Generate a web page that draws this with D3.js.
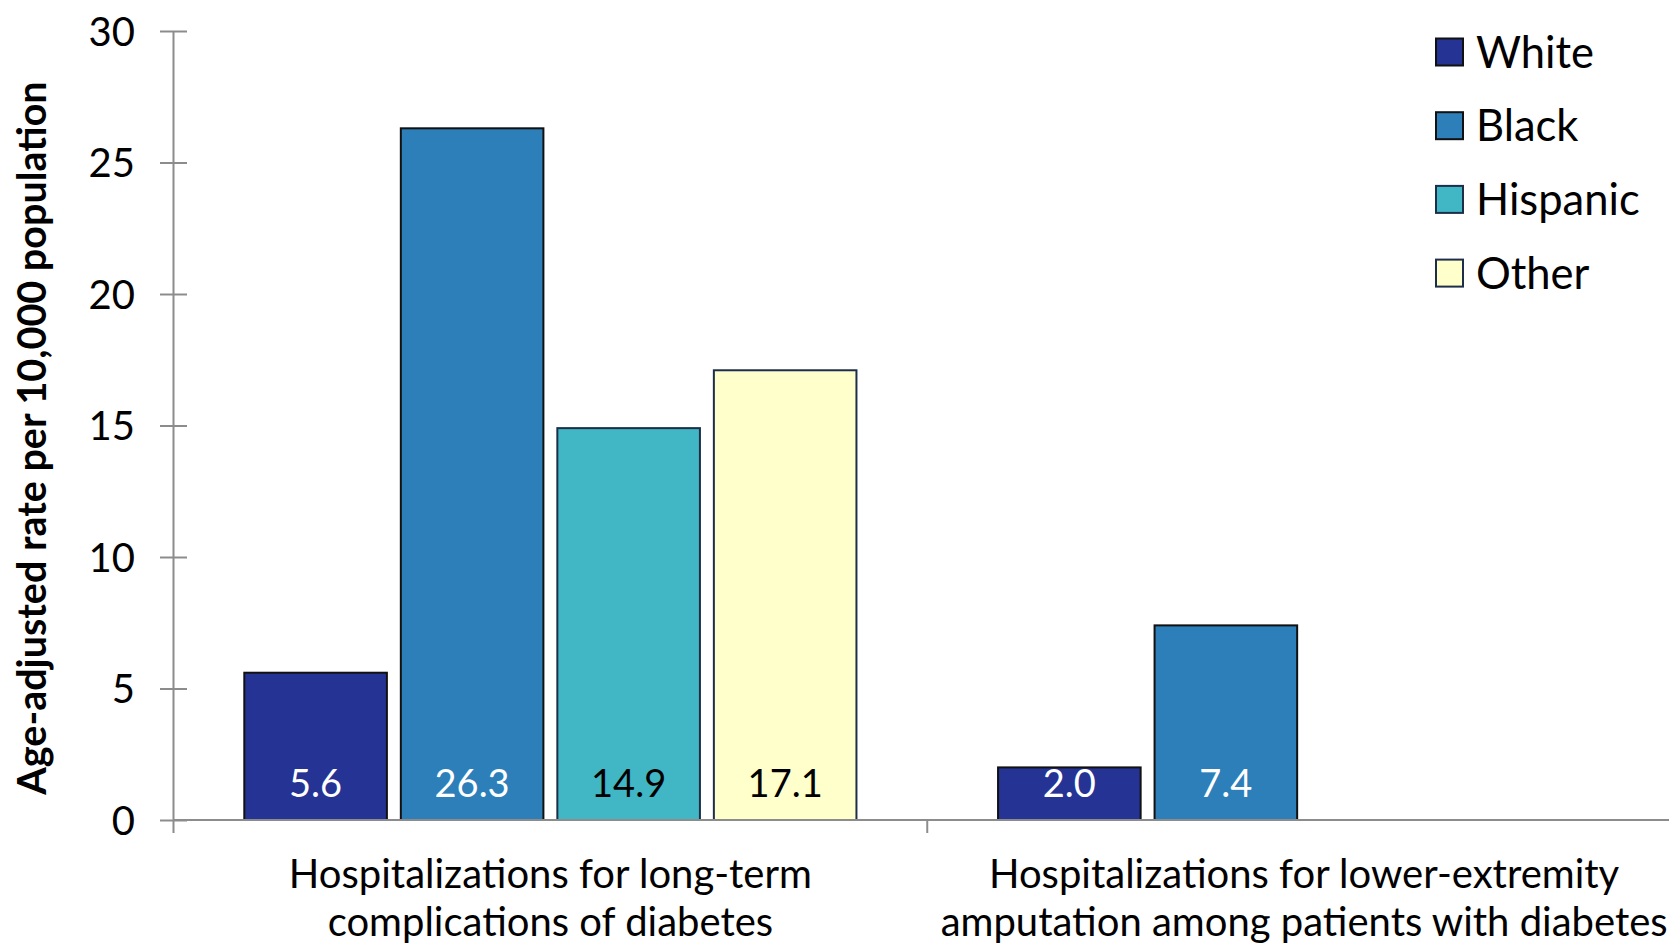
<!DOCTYPE html>
<html>
<head>
<meta charset="utf-8">
<script src="https://cdn.jsdelivr.net/npm/d3@7"></script>
<style>
  html, body { margin: 0; padding: 0; background: #fff; }
  svg { display: block; font-family: Lato, "Open Sans", sans-serif; }
</style>
</head>
<body>
<svg id="chart" width="1669" height="946"></svg>
<script>
// Measures (each category is drawn as its own line pair)
const categories = [
  ["Hospitalizations for long-term", "complications of diabetes"],
  ["Hospitalizations for lower-extremity", "amputation among patients with diabetes"]
];
const seriesNames = ["White", "Black", "Hispanic", "Other"];
const seriesColors = ["#253494", "#2c7fb8", "#41b6c4", "#ffffcc"];
const seriesStrokes = ["#111111", "#111111", "#1c2e4a", "#1c2e4a"];
const labelColors = ["#ffffff", "#ffffff", "#000000", "#000000"];
// Age-adjusted rate per 10,000 population; null = not reported
const white = [5.6, 2.0];
const black = [26.3, 7.4];
const hispanic = [14.9, null];
const other = [17.1, null];
const yTicks = [0, 5, 10, 15, 20, 25, 30];
const yTitle = "Age-adjusted rate per 10,000 population";

const seriesValues = [white, black, hispanic, other];

const svg = d3.select("#chart");
const axisColor = "#8c8c8c";

const y = d3.scaleLinear().domain([0, 30]).range([820, 31]);
const x0 = d3.scaleBand().domain(d3.range(categories.length)).range([173.5, 1681]).paddingInner(0).paddingOuter(0);
const x1 = d3.scaleBand().domain(d3.range(seriesNames.length)).range([70.8, x0.bandwidth() - 70.8]).paddingInner(0.089).paddingOuter(0);

// Bars
const groups = svg.append("g").selectAll("g")
  .data(categories.map((c, ci) => ci))
  .join("g")
  .attr("transform", ci => `translate(${x0(ci)},0)`);

const barData = ci => seriesValues.map((vals, si) => ({ si, v: vals[ci] })).filter(d => d.v != null);

groups.selectAll("rect")
  .data(barData)
  .join("rect")
  .attr("x", d => x1(d.si))
  .attr("width", x1.bandwidth())
  .attr("y", d => y(d.v))
  .attr("height", d => y(0) - y(d.v))
  .attr("fill", d => seriesColors[d.si])
  .attr("stroke", d => seriesStrokes[d.si])
  .attr("stroke-width", 2);

groups.selectAll("text.val")
  .data(barData)
  .join("text")
  .attr("class", "val")
  .attr("x", d => x1(d.si) + x1.bandwidth() / 2)
  .attr("y", 797)
  .attr("text-anchor", "middle")
  .attr("font-size", 38)
  .attr("fill", d => labelColors[d.si])
  .text(d => d.v.toFixed(1));

// Y axis
const yAxis = d3.axisLeft(y).tickValues(yTicks).tickSize(0).tickPadding(38.5);
const gy = svg.append("g").attr("transform", "translate(173.5,0)").call(yAxis);
gy.select(".domain").remove();
gy.selectAll(".tick text").attr("font-size", 40).attr("font-family", "Lato, sans-serif").attr("fill", "#000").attr("dy", "0.36em");
gy.selectAll(".tick").append("line")
  .attr("x1", -13.5).attr("x2", 13.5)
  .attr("stroke", axisColor).attr("stroke-width", 2);
svg.append("line")
  .attr("x1", 173.5).attr("x2", 173.5)
  .attr("y1", y(30)).attr("y2", 833)
  .attr("stroke", axisColor).attr("stroke-width", 2);

// X axis baseline and category separators
svg.append("line")
  .attr("x1", 173.5).attr("x2", 1669)
  .attr("y1", y(0)).attr("y2", y(0))
  .attr("stroke", axisColor).attr("stroke-width", 2);
svg.append("g").selectAll("line")
  .data(d3.range(1, categories.length))
  .join("line")
  .attr("x1", i => x0(i)).attr("x2", i => x0(i))
  .attr("y1", y(0)).attr("y2", 833)
  .attr("stroke", axisColor).attr("stroke-width", 2);

// Category labels
const catText = svg.append("g").selectAll("text")
  .data(categories)
  .join("text")
  .attr("text-anchor", "middle")
  .attr("font-size", 40)
  .attr("fill", "#000");
catText.selectAll("tspan")
  .data((d, i) => d.map(line => ({ line, i })))
  .join("tspan")
  .attr("x", d => x0(d.i) + x0.bandwidth() / 2)
  .attr("y", (d, j) => 888 + j * 48)
  .text(d => d.line);

// Y axis title
svg.append("text")
  .attr("transform", "translate(46,438) rotate(-90)")
  .attr("text-anchor", "middle")
  .attr("font-size", 39.5)
  .attr("font-weight", "bold")
  .attr("fill", "#000")
  .text(yTitle);

// Legend
const legend = svg.append("g").selectAll("g")
  .data(seriesNames)
  .join("g")
  .attr("transform", (d, i) => `translate(1436,${52 + i * 73.7})`);
legend.append("rect")
  .attr("x", 0).attr("y", -13.5)
  .attr("width", 27).attr("height", 27)
  .attr("fill", (d, i) => seriesColors[i])
  .attr("stroke", (d, i) => seriesStrokes[i])
  .attr("stroke-width", 2);
legend.append("text")
  .attr("x", 40).attr("y", 0)
  .attr("dy", "0.36em")
  .attr("font-size", 43.5)
  .attr("fill", "#000")
  .text(d => d);
</script>
</body>
</html>
